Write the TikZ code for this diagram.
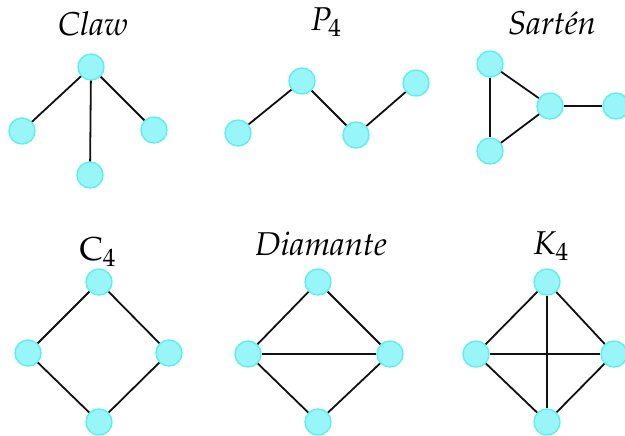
\documentclass[tikz,border=0pt]{standalone}
\usepackage[T1]{fontenc}
\usepackage{mathpazo}
\usepackage{xcolor}
\usepackage{tikz}
\definecolor{VertFill}{HTML}{98F5F8}
\definecolor{VertLine}{HTML}{5EEEF0}
\definecolor{Ink}{HTML}{111111}

\begin{document}
\begin{tikzpicture}[
  x=0.5pt,y=-0.5pt,
  vtx/.style={circle,draw=VertLine,fill=VertFill,line width=0.7pt,minimum size=13pt,inner sep=0pt},
  gname/.style={font=\fontsize{16.5}{20}\selectfont,inner sep=0pt},
  edge/.style={draw=Ink,line width=0.9pt}
]
  \useasboundingbox (0,0) rectangle (625,435);
  % Claw
  \node[gname] (tclaw) at (93,24) {\textit{Claw}};
  \node[vtx] (c0) at (91,67) {};
  \node[vtx] (c1) at (22,131) {};
  \node[vtx] (c2) at (154,130) {};
  \node[vtx] (c3) at (90,175) {};
  % P4
  \node[gname] (tpath) at (326,22) {$P_4$};
  \node[vtx] (p1) at (238,133) {};
  \node[vtx] (p2) at (302,81) {};
  \node[vtx] (p3) at (356,135) {};
  \node[vtx] (p4) at (416,83) {};
  % Sarten
  \node[gname] (tpan) at (552,23) {\textit{Sart\'en}};
  \node[vtx] (s1) at (490,64) {};
  \node[vtx] (s2) at (490,151) {};
  \node[vtx] (s3) at (550,106) {};
  \node[vtx] (s4) at (616,106) {};
  % C4
  \node[gname] (tcyc) at (98,252) {$\mathrm{C}_4$};
  \node[vtx] (q1) at (99,282) {};
  \node[vtx] (q2) at (28,353) {};
  \node[vtx] (q3) at (169,353) {};
  \node[vtx] (q4) at (99,422) {};
  % Diamante
  \node[gname] (tdia) at (321,244) {\textit{Diamante}};
  \node[vtx] (d1) at (318,282) {};
  \node[vtx] (d2) at (248,354) {};
  \node[vtx] (d3) at (390,354) {};
  \node[vtx] (d4) at (318,422) {};
  % K4
  \node[gname] (tcomp) at (551,246) {$K_4$};
  \node[vtx] (k1) at (547,282) {};
  \node[vtx] (k2) at (476,354) {};
  \node[vtx] (k3) at (614,354) {};
  \node[vtx] (k4) at (547,422) {};
  % edges
  \draw[edge] (c0) -- (c1);
  \draw[edge] (c0) -- (c2);
  \draw[edge] (c0) -- (c3);
  \draw[edge] (p1) -- (p2);
  \draw[edge] (p2) -- (p3);
  \draw[edge] (p3) -- (p4);
  \draw[edge] (s1) -- (s2);
  \draw[edge] (s1) -- (s3);
  \draw[edge] (s2) -- (s3);
  \draw[edge] (s3) -- (s4);
  \draw[edge] (q1) -- (q2);
  \draw[edge] (q1) -- (q3);
  \draw[edge] (q2) -- (q4);
  \draw[edge] (q3) -- (q4);
  \draw[edge] (d1) -- (d2);
  \draw[edge] (d1) -- (d3);
  \draw[edge] (d2) -- (d3);
  \draw[edge] (d2) -- (d4);
  \draw[edge] (d3) -- (d4);
  \draw[edge] (k1) -- (k2);
  \draw[edge] (k1) -- (k3);
  \draw[edge] (k1) -- (k4);
  \draw[edge] (k2) -- (k3);
  \draw[edge] (k2) -- (k4);
  \draw[edge] (k3) -- (k4);
\end{tikzpicture}
\end{document}
